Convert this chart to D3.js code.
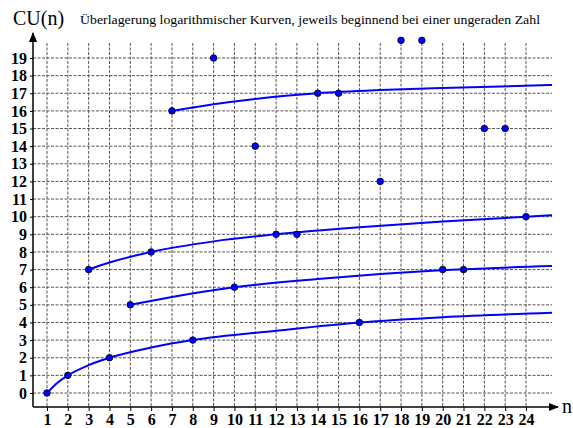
<!DOCTYPE html>
<html>
<head>
<meta charset="utf-8">
<script src="https://cdn.jsdelivr.net/npm/d3@7"></script>
<style>
  html, body { margin: 0; padding: 0; background: #fff; }
  svg { display: block; }
</style>
</head>
<body>
<svg id="chart" width="573" height="428"></svg>
<script>
// ---- Data ----
const xTicks = d3.range(1, 25);          // 1 .. 24
const yTicks = d3.range(0, 20);          // 0 .. 19

// Dots: n and CU(n)
const pointN = [1, 2, 4, 8, 16, 5, 10, 20, 21, 3, 6, 12, 13, 24, 7, 14, 15, 9, 11, 17, 18, 19, 22, 23];
const pointV = [0, 1, 2, 3, 4, 5, 6, 7, 7, 7, 8, 9, 9, 10, 16, 17, 17, 19, 14, 12, 20, 20, 15, 15];

// Curves
const curve1N = [1, 1.5, 2, 3, 4, 6, 8, 12, 16, 20, 25.25];
const curve1V = [0, 0.58, 1, 1.58, 2, 2.58, 3, 3.53, 4, 4.3, 4.55];
const curve2N = [5, 7, 10, 14, 17, 21, 25.25];
const curve2V = [5, 5.45, 6, 6.47, 6.75, 7.02, 7.2];
const curve3N = [3, 4, 6, 9, 12, 16, 20, 24, 25.25];
const curve3V = [7, 7.4, 8, 8.6, 9, 9.4, 9.72, 10, 10.08];
const curve4N = [7, 9, 11, 14, 17, 20, 25.25];
const curve4V = [16, 16.38, 16.68, 17, 17.18, 17.3, 17.47];

const titleLeft = "CU(n)";
const titleMain = "Überlagerung logarithmischer Kurven, jeweils beginnend bei einer ungeraden Zahl";
const xLabel = "n";

// ---- Drawing ----
const svg = d3.select("#chart");
const x = d3.scaleLinear().domain([1, 24]).range([47, 526]);
const y = d3.scaleLinear().domain([0, 19]).range([393, 58]);

const axisX = 33, axisY = 407, gridRight = 552, gridTop = 43;
const serif = "'Liberation Serif', 'Times New Roman', serif";
const blue = "#0000ff";

// grid
const grid = svg.append("g");
grid.selectAll("line.v").data(xTicks).join("line")
  .attr("x1", d => x(d)).attr("x2", d => x(d))
  .attr("y1", gridTop).attr("y2", axisY)
  .attr("stroke", "#555").attr("stroke-width", 1).attr("stroke-dasharray", "3,1.5");
grid.selectAll("line.h").data(yTicks).join("line")
  .attr("x1", axisX).attr("x2", gridRight)
  .attr("y1", d => y(d)).attr("y2", d => y(d))
  .attr("stroke", "#555").attr("stroke-width", 1).attr("stroke-dasharray", "3,1.5");

// axes via d3 axis generators
const gx = svg.append("g").attr("transform", `translate(0,${axisY})`)
  .call(d3.axisBottom(x).tickValues(xTicks).tickSize(4).tickSizeOuter(0).tickPadding(3).tickFormat(d3.format("d")));
gx.select(".domain").remove();
gx.selectAll("text").attr("font-family", serif).attr("font-weight", "bold").attr("font-size", 16).attr("fill", "#000");

const gy = svg.append("g").attr("transform", `translate(${axisX},0)`)
  .call(d3.axisLeft(y).tickValues(yTicks).tickSize(3).tickSizeOuter(0).tickPadding(3).tickFormat(d3.format("d")));
gy.select(".domain").remove();
gy.selectAll("text").attr("font-family", serif).attr("font-weight", "bold").attr("font-size", 16).attr("fill", "#000");

// axis lines with arrows
svg.append("defs").append("marker")
  .attr("id", "arr").attr("viewBox", "0 0 10 10").attr("refX", 9).attr("refY", 5)
  .attr("markerWidth", 7).attr("markerHeight", 7).attr("orient", "auto")
  .append("path").attr("d", "M0,1 L10,5 L0,9 Z").attr("fill", "#000");
svg.append("line").attr("x1", axisX).attr("y1", axisY).attr("x2", 558).attr("y2", axisY)
  .attr("stroke", "#000").attr("stroke-width", 1.5).attr("marker-end", "url(#arr)");
svg.append("line").attr("x1", axisX).attr("y1", axisY).attr("x2", axisX).attr("y2", 33)
  .attr("stroke", "#000").attr("stroke-width", 1.5).attr("marker-end", "url(#arr)");

// curves
const line = d3.line().x(d => x(d[0])).y(d => y(d[1])).curve(d3.curveMonotoneX);
[[curve1N, curve1V], [curve2N, curve2V], [curve3N, curve3V], [curve4N, curve4V]].forEach(([ns, vs]) => {
  svg.append("path").datum(ns.map((n, i) => [n, vs[i]]))
    .attr("d", line).attr("fill", "none").attr("stroke", blue).attr("stroke-width", 2);
});

// dots
svg.append("g").selectAll("circle").data(pointN.map((n, i) => [n, pointV[i]])).join("circle")
  .attr("cx", d => x(d[0])).attr("cy", d => y(d[1])).attr("r", 3.3)
  .attr("fill", blue).attr("stroke", "#000").attr("stroke-width", 0.8);

// texts
svg.append("text").attr("x", 13).attr("y", 25).text(titleLeft)
  .attr("font-family", serif).attr("font-size", 20).attr("fill", "#000");
svg.append("text").attr("x", 80).attr("y", 24).text(titleMain)
  .attr("font-family", serif).attr("font-size", 13).attr("fill", "#000")
  .attr("textLength", 460).attr("lengthAdjust", "spacingAndGlyphs");
svg.append("text").attr("x", 562).attr("y", 413).text(xLabel)
  .attr("font-family", serif).attr("font-size", 20).attr("fill", "#000");
</script>
</body>
</html>
